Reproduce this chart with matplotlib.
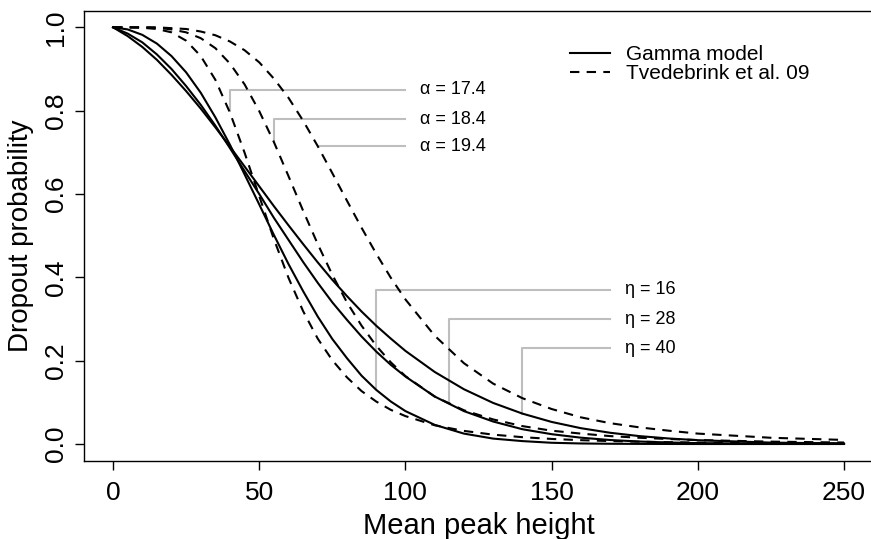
import matplotlib
matplotlib.use('Agg')
import matplotlib.pyplot as plt

plt.rcParams['font.family'] = ['Liberation Sans', 'DejaVu Sans']

# mean peak height grid
mu = [0, 5, 10, 15, 20, 25, 30, 35, 40, 45, 50, 55, 60, 65, 70, 75, 80, 85, 90, 95,
      100, 110, 120, 130, 140, 150, 160, 170, 180, 190, 200, 225, 250]

# Gamma model (solid)
gamma_eta16 = [1.0, 0.995, 0.982, 0.961, 0.931, 0.892, 0.843, 0.784, 0.718, 0.647, 0.575, 0.502,
               0.432, 0.367, 0.306, 0.252, 0.206, 0.164, 0.130, 0.102, 0.079, 0.046, 0.025, 0.013,
               0.007, 0.003, 0.0013, 0.0006, 0.0003, 0.0001, 0.0, 0.0, 0.0]
gamma_eta28 = [1.0, 0.985, 0.964, 0.935, 0.900, 0.859, 0.814, 0.764, 0.710, 0.655, 0.600, 0.543,
               0.490, 0.437, 0.387, 0.340, 0.298, 0.258, 0.222, 0.190, 0.162, 0.114, 0.079, 0.054,
               0.0355, 0.0236, 0.0152, 0.0096, 0.006, 0.0037, 0.0022, 0.0006, 0.0002]
gamma_eta40 = [1.0, 0.979, 0.953, 0.922, 0.886, 0.847, 0.805, 0.760, 0.7135, 0.666, 0.6185, 0.571,
               0.525, 0.480, 0.436, 0.394, 0.355, 0.318, 0.284, 0.253, 0.2235, 0.173, 0.1315, 0.0986,
               0.073, 0.053, 0.038, 0.027, 0.019, 0.0133, 0.0092, 0.0034, 0.0013]

# Tvedebrink et al. 09 (dashed)
tv_a174 = [1.0, 1.0, 0.999, 0.996, 0.988, 0.968, 0.931, 0.874, 0.795, 0.699, 0.595, 0.492,
           0.399, 0.319, 0.253, 0.201, 0.160, 0.127, 0.102, 0.082, 0.067, 0.045, 0.0315, 0.0225,
           0.0164, 0.0122, 0.0092, 0.0071, 0.0055, 0.0044, 0.0035, 0.0021, 0.0013]
tv_a184 = [1.0, 1.0, 1.0, 0.999, 0.995, 0.988, 0.974, 0.950, 0.913, 0.863, 0.799, 0.725,
           0.643, 0.560, 0.480, 0.406, 0.340, 0.284, 0.236, 0.196, 0.163, 0.114, 0.081, 0.059,
           0.043, 0.032, 0.025, 0.019, 0.015, 0.012, 0.0095, 0.0057, 0.0036]
tv_a194 = [1.0, 1.0, 1.0, 1.0, 0.998, 0.996, 0.990, 0.981, 0.966, 0.945, 0.916, 0.877,
           0.831, 0.776, 0.715, 0.650, 0.584, 0.519, 0.457, 0.399, 0.347, 0.260, 0.194, 0.145,
           0.110, 0.084, 0.064, 0.050, 0.040, 0.032, 0.025, 0.015, 0.0098]

# annotation brackets
alpha_labels = ['17.4', '18.4', '19.4']
alpha_x = [40, 55, 70]
alpha_curve_y = [0.80, 0.725, 0.715]
alpha_text_y = [0.85, 0.78, 0.715]
alpha_line_end = 100

eta_labels = ['16', '28', '40']
eta_x = [90, 115, 140]
eta_curve_y = [0.135, 0.10, 0.073]
eta_text_y = [0.37, 0.30, 0.23]
eta_line_end = 170

fig = plt.figure(figsize=(8.71, 5.39), dpi=100)
ax = fig.add_axes([0.0962, 0.1453, 0.9064, 0.8349])

grey = '#BEBEBE'
for x, y0, y1, lab in zip(alpha_x, alpha_curve_y, alpha_text_y, alpha_labels):
    ax.plot([x, x, alpha_line_end], [y0, y1, y1], color=grey, lw=1.5, zorder=1)
    ax.text(alpha_line_end + 5, y1, 'α = ' + lab, fontsize=13, va='center', ha='left')
for x, y0, y1, lab in zip(eta_x, eta_curve_y, eta_text_y, eta_labels):
    ax.plot([x, x, eta_line_end], [y0, y1, y1], color=grey, lw=1.5, zorder=1)
    ax.text(eta_line_end + 5, y1, 'η = ' + lab, fontsize=13, va='center', ha='left')

l_gam = None
for ys in [gamma_eta16, gamma_eta28, gamma_eta40]:
    l_gam, = ax.plot(mu, ys, color='black', lw=1.5, zorder=3)
l_tv = None
for ys in [tv_a174, tv_a184, tv_a194]:
    l_tv, = ax.plot(mu, ys, color='black', lw=1.5, dashes=(4.5, 3.5), zorder=3)

ax.legend([l_gam, l_tv], ['Gamma model', 'Tvedebrink et al. 09'], loc='upper left',
          bbox_to_anchor=(0.616, 0.924), frameon=False, fontsize=15, handlelength=1.9,
          handletextpad=0.8, borderpad=0, borderaxespad=0, labelspacing=0.0)

ax.set_xlim(-10, 260)
ax.set_ylim(-0.04, 1.04)
ax.set_xticks([0, 50, 100, 150, 200, 250])
ax.set_yticks([0.0, 0.2, 0.4, 0.6, 0.8, 1.0])
ax.set_yticklabels(['0.0', '0.2', '0.4', '0.6', '0.8', '1.0'])
ax.tick_params(direction='out', length=6.5, width=1.0, labelsize=19)
ax.tick_params(axis='x', pad=8)
ax.tick_params(axis='y', pad=5)
for lab in ax.get_yticklabels():
    lab.set_rotation(90)
    lab.set_va('center')
for s in ax.spines.values():
    s.set_linewidth(1.0)

ax.set_xlabel('Mean peak height', fontsize=21)
ax.set_ylabel('Dropout probability', fontsize=20)
ax.xaxis.set_label_coords(0.5, -0.145)
ax.xaxis.label.set_va('center')
ax.yaxis.set_label_coords(-0.08, 0.5)
ax.yaxis.label.set_va('center')

plt.savefig('out.png', dpi=100)
